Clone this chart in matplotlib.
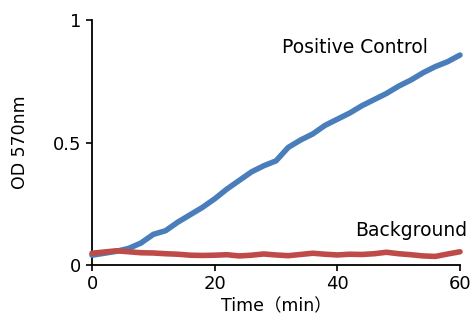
import matplotlib
matplotlib.use("Agg")
import matplotlib.pyplot as plt

plt.rcParams["font.family"] = ["DejaVu Sans", "Noto Sans CJK JP"]

# OD readings every 2 minutes
time_min = list(range(0, 62, 2))
positive_control = [
    0.040, 0.048, 0.056, 0.068, 0.090, 0.125, 0.140, 0.175, 0.205, 0.235,
    0.270, 0.310, 0.345, 0.380, 0.405, 0.425, 0.480, 0.510, 0.535, 0.570,
    0.595, 0.620, 0.650, 0.675, 0.700, 0.730, 0.755, 0.785, 0.810, 0.830,
    0.857,
]
background = [
    0.048, 0.053, 0.058, 0.054, 0.050, 0.049, 0.046, 0.044, 0.040, 0.039,
    0.040, 0.042, 0.037, 0.040, 0.045, 0.041, 0.038, 0.043, 0.048, 0.044,
    0.041, 0.044, 0.043, 0.046, 0.052, 0.046, 0.042, 0.037, 0.035, 0.045,
    0.054,
]
x_ticks = [0, 20, 40, 60]
y_ticks = [0, 0.5, 1]
y_tick_labels = ["0", "0.5", "1"]

fig = plt.figure(figsize=(4.71, 3.2), dpi=100)
ax = fig.add_axes([92 / 471, 1 - 265 / 320, 368 / 471, 245 / 320])

ax.plot(time_min, positive_control, color="#4a7ebb", lw=4,
        solid_capstyle="round", solid_joinstyle="round", clip_on=False, zorder=3)
ax.plot(time_min, background, color="#be4b48", lw=4,
        solid_capstyle="round", solid_joinstyle="round", clip_on=False, zorder=4)

ax.text(42.9, 0.886, "Positive Control", fontsize=13.5, ha="center", va="center")
ax.text(61.2, 0.14, "Background", fontsize=13.5, ha="right", va="center")

ax.set_xlim(0, 60)
ax.set_ylim(0, 1)
ax.set_xticks(x_ticks)
ax.set_yticks(y_ticks)
ax.set_yticklabels(y_tick_labels)
ax.tick_params(direction="out", length=4.5, width=1.2, labelsize=13, pad=3)
for side in ("top", "right"):
    ax.spines[side].set_visible(False)
for side in ("left", "bottom"):
    ax.spines[side].set_linewidth(1.3)

ax.set_xlabel("Time（min）", fontsize=12.5, labelpad=3)
ax.set_ylabel("OD 570nm", fontsize=12.5, labelpad=17)

fig.savefig("out.png", dpi=100)
